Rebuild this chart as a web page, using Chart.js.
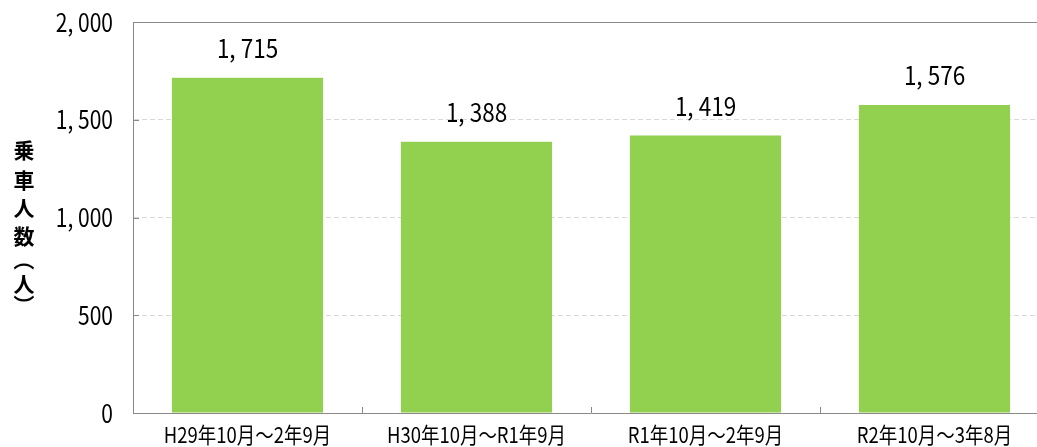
<!DOCTYPE html>
<html lang="ja">
<head>
<meta charset="utf-8">
<title>乗車人数</title>
<script src="https://cdn.jsdelivr.net/npm/chart.js@4/dist/chart.umd.min.js"></script>
<style>
    html, body { margin: 0; padding: 0; background: #fff; overflow: hidden; }
    #wrap { width: 1049px; height: 447px; }
</style>
</head>
<body>
<div id="wrap"><canvas id="riders" width="1049" height="447"></canvas></div>
<script>
// ---- Data ----
const PERIODS = ["H29年10月～2年9月", "H30年10月～R1年9月", "R1年10月～2年9月", "R2年10月～3年8月"];
const RIDERS = [1715, 1388, 1419, 1576];
const Y_TICKS = [0, 500, 1000, 1500, 2000];
const Y_TITLE = "乗車人数（人）";

const BAR_COLOR = "#92d050";
const AXIS_COLOR = "#898989";
const GRID_COLOR = "#d9d9d9";
const FONT = "'Noto Sans CJK JP', sans-serif";
const SQUEEZE = 0.84;

// "1,715" -> "1, 715" (wide comma look)
function fmt(v) {
    return Number(v).toLocaleString("en-US").replace(/,/g, ", ");
}

// ---- Narrow text ----
// Gothic text here is set narrower than the font's own width,
// so every fillText is squeezed horizontally around its anchor.
let squeeze = SQUEEZE;

function narrowText(ctx) {
    const fill = ctx.fillText.bind(ctx);
    ctx.fillText = (text, x, y, maxWidth) => {
        if (squeeze === 1) return fill(text, x, y, maxWidth);
        ctx.save();
        ctx.translate(x, y);
        ctx.scale(squeeze, 1);
        fill(text, 0, 0);
        ctx.restore();
    };
}

// ---- Plugins ----

// inner tick marks, solid top edge line
const axisDecor = {
    id: "axisDecor",
    afterDraw(chart) {
        const { ctx, chartArea: area, scales: { x, y } } = chart;
        ctx.save();
        ctx.strokeStyle = AXIS_COLOR;
        ctx.lineWidth = 1;
        ctx.beginPath();
        // top edge
        const yTop = Math.round(y.getPixelForValue(Y_TICKS[Y_TICKS.length - 1])) + 0.5;
        ctx.moveTo(area.left, yTop);
        ctx.lineTo(area.right, yTop);
        // y ticks pointing inward
        Y_TICKS.slice(1, -1).forEach((v) => {
            const py = Math.round(y.getPixelForValue(v)) + 0.5;
            ctx.moveTo(area.left, py);
            ctx.lineTo(area.left + 6, py);
        });
        // x ticks between categories
        const half = (x.getPixelForValue(1) - x.getPixelForValue(0)) / 2;
        for (let i = 1; i < PERIODS.length; i++) {
            const px = Math.round(x.getPixelForValue(i) - half) + 0.5;
            ctx.moveTo(px, area.bottom);
            ctx.lineTo(px, area.bottom - 6);
        }
        ctx.stroke();
        ctx.restore();
    },
};

// value labels above bars
const barValues = {
    id: "barValues",
    afterDatasetsDraw(chart) {
        const { ctx } = chart;
        const meta = chart.getDatasetMeta(0);
        squeeze = 0.9;
        ctx.save();
        ctx.fillStyle = "#000";
        ctx.font = `25px ${FONT}`;
        ctx.textAlign = "center";
        ctx.textBaseline = "middle";
        meta.data.forEach((bar, i) => {
            ctx.fillText(fmt(RIDERS[i]), bar.x, bar.y - 29);
        });
        ctx.restore();
        squeeze = SQUEEZE;
    },
};

// vertical stacked axis title
const yTitle = {
    id: "yTitle",
    afterDraw(chart) {
        const { ctx } = chart;
        const steps = [0, 30, 58, 86, 116, 134, 149];
        const cx = 24;
        const top = 150;
        squeeze = 1;
        ctx.save();
        ctx.fillStyle = "#000";
        ctx.font = `bold 21px ${FONT}`;
        ctx.textAlign = "center";
        ctx.textBaseline = "middle";
        Array.from(Y_TITLE).forEach((ch, i) => {
            const cy = top + steps[i];
            if (ch === "（" || ch === "）") {
                ctx.save();
                ctx.translate(cx, cy);
                ctx.rotate(Math.PI / 2);
                ctx.fillText(ch, ch === "（" ? -6 : 6, 0);
                ctx.restore();
            } else {
                ctx.fillText(ch, cx, cy);
            }
        });
        ctx.restore();
        squeeze = SQUEEZE;
    },
};

// ---- Chart ----

const ctx = document.getElementById("riders").getContext("2d");
narrowText(ctx);

new Chart(ctx, {
    type: "bar",
    data: {
        labels: PERIODS,
        datasets: [{
            data: RIDERS,
            backgroundColor: BAR_COLOR,
            borderWidth: 0,
            categoryPercentage: 1.0,
            barPercentage: 0.66,
        }],
    },
    options: {
        responsive: false,
        animation: false,
        events: [],
        layout: { padding: { top: 22, left: 0, right: 0, bottom: 0 } },
        plugins: {
            legend: { display: false },
            tooltip: { enabled: false },
        },
        scales: {
            x: {
                grid: { display: false, drawTicks: false },
                border: { color: AXIS_COLOR, width: 1 },
                ticks: {
                    color: "#000",
                    padding: 8,
                    maxRotation: 0,
                    autoSkip: false,
                    font: { family: FONT, size: 22 },
                },
                afterFit: (scale) => { scale.height = 34; },
            },
            y: {
                min: 0,
                max: 2000,
                grid: {
                    drawTicks: false,
                    color: (c) => (c.tick && (c.tick.value === 0 || c.tick.value === 2000) ? "rgba(0,0,0,0)" : GRID_COLOR),
                },
                border: { color: AXIS_COLOR, width: 1, dash: [5, 3] },
                ticks: {
                    stepSize: 500,
                    color: "#000",
                    padding: 20,
                    font: { family: FONT, size: 25 },
                    callback: (v) => fmt(v),
                },
                afterFit: (scale) => {
                    scale.width = 133;
                    scale.paddingTop = 0;
                    scale.paddingBottom = 0;
                },
            },
        },
    },
    plugins: [axisDecor, barValues, yTitle],
});
</script>
</body>
</html>
